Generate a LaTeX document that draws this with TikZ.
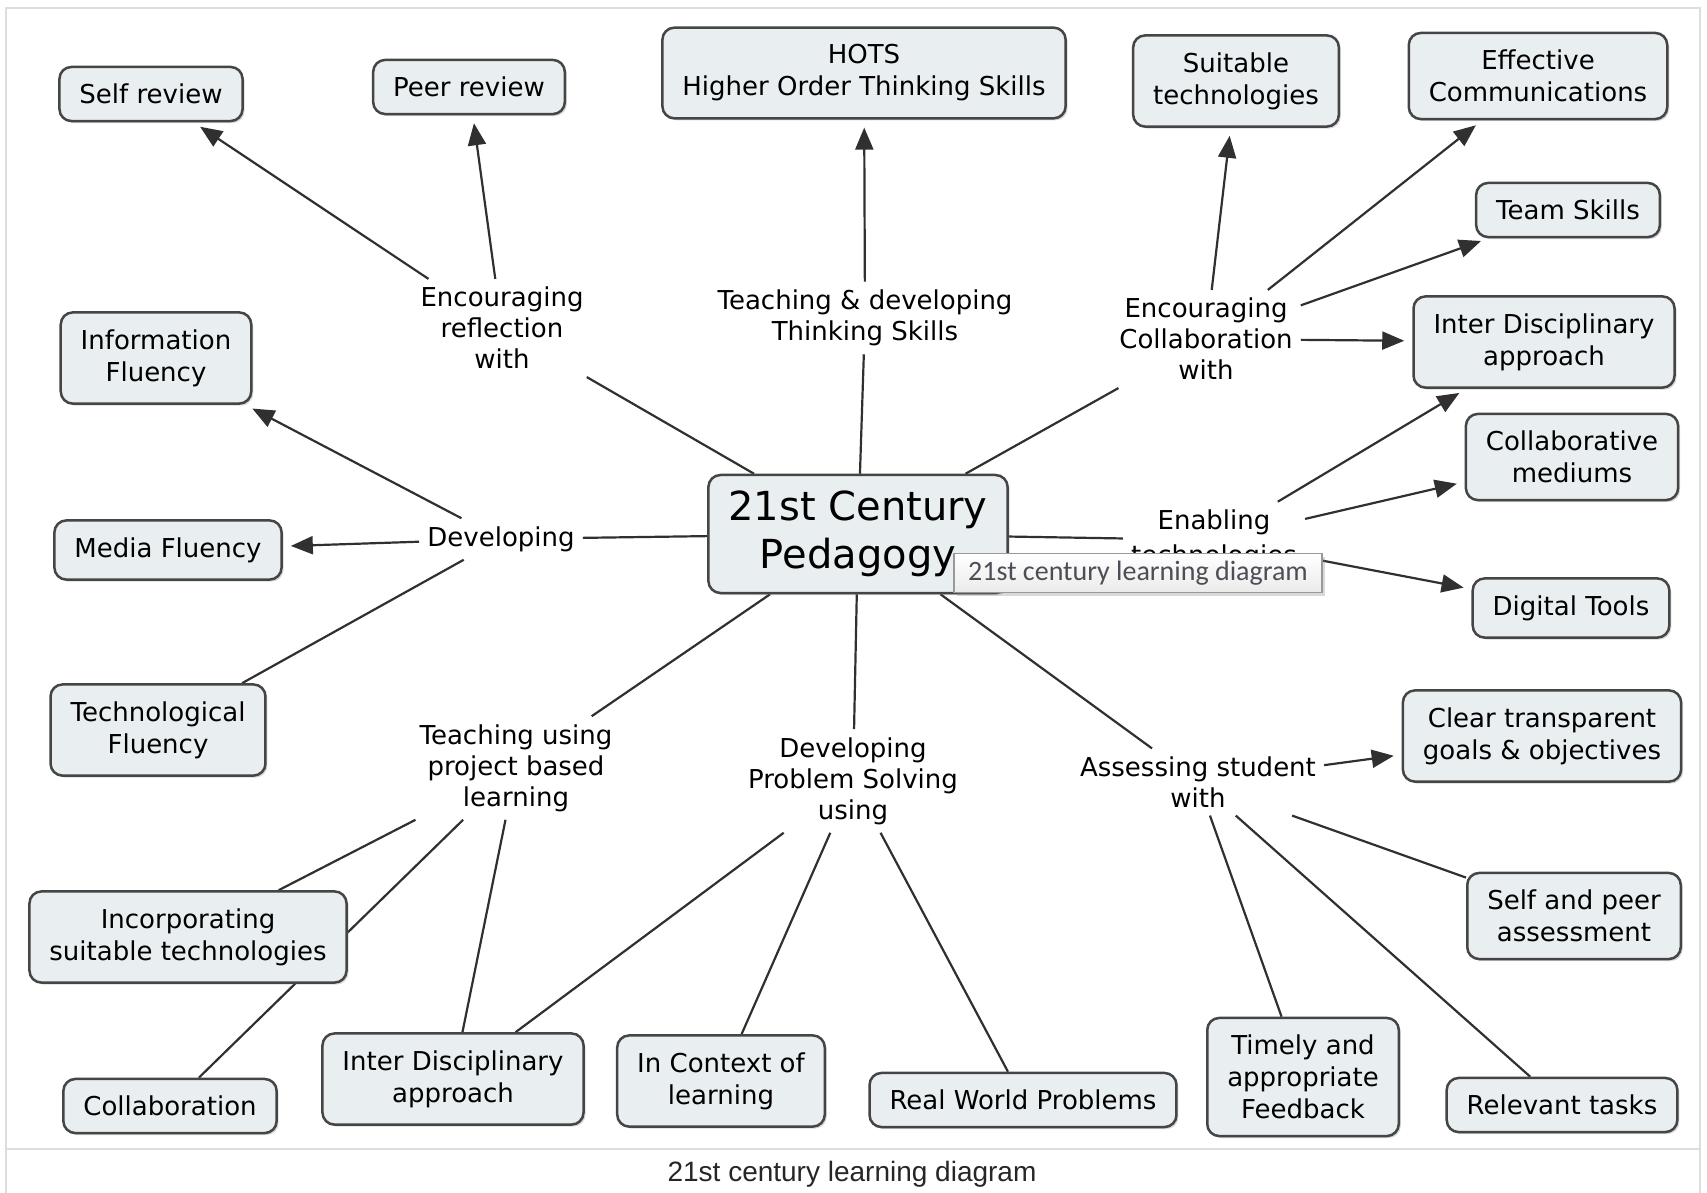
\documentclass[tikz,border=0pt]{standalone}
\usepackage{fontspec}
\setmainfont{DejaVu Sans}
\newfontfamily\capfont{Liberation Sans}
\newfontfamily\tipfont{Carlito}
\usetikzlibrary{arrows.meta,shadows,backgrounds}
\definecolor{boxfill}{HTML}{E9EEF1}
\definecolor{boxline}{HTML}{454545}
\definecolor{edgeline}{HTML}{303030}
\definecolor{framegray}{HTML}{DDDDDD}
\definecolor{tiptext}{HTML}{4D4D55}

\begin{document}
\begin{tikzpicture}[x=1pt, y=-1pt]
    % Node styles
    \tikzstyle{concept} = [draw=boxline, line width=2.5pt, fill=boxfill, rounded corners=12pt,
        align=center, font=\fontsize{26}{32}\selectfont, inner xsep=20pt, inner ysep=17pt,
        minimum height=53pt, drop shadow={shadow xshift=2pt, shadow yshift=-2pt, opacity=0.3}]
    \tikzstyle{hub} = [concept, font=\fontsize{40}{48}\selectfont, inner xsep=20pt, inner ysep=16pt]
    \tikzstyle{phrase} = [align=center, font=\fontsize{26}{31}\selectfont, inner sep=8pt]
    \tikzstyle{ln} = [draw=edgeline, line width=2.2pt]
    \tikzstyle{arr} = [ln, -{Triangle[length=22pt,width=18pt]}, shorten >=8pt]

    \useasboundingbox (0,0) rectangle (1707,1193);

    % Frame and caption
    \draw[framegray, line width=1.5pt] (6,1193) -- (6,8) -- (1700,8) -- (1700,1193);
    \draw[framegray, line width=1.5pt] (6,1149) -- (1700,1149);
    \node[font=\capfont\fontsize{28}{30}\selectfont, text=black!85] (caption) at (852,1174) {21st century learning diagram};

    % Centre
    \node[hub] (ped) at (858,534) {21st Century\\Pedagogy};

    % Linking phrases
    \node[phrase] (encref) at (502,328) {Encouraging\\reflection\\with};
    \node[phrase] (teachdev) at (865,318) {Teaching \& developing\\Thinking Skills};
    \node[phrase] (enccoll) at (1206,339) {Encouraging\\Collaboration\\with};
    \node[phrase] (developing) at (501,539) {Developing};
    \node[phrase, font=\fontsize{26}{35}\selectfont] (enabling) at (1214,540) {Enabling\\technologies};
    \node[phrase] (teachproj) at (516,768) {Teaching using\\project based\\learning};
    \node[phrase] (devprob) at (853,781) {Developing\\Problem Solving\\using};
    \node[phrase] (assess) at (1198,782) {Assessing student\\with};

    % Concepts, top
    \node[concept] (selfrev) at (151,94) {Self review};
    \node[concept] (peerrev) at (469,87) {Peer review};
    \node[concept] (hots) at (864,73) {HOTS\\Higher Order Thinking Skills};
    \node[concept] (suittech) at (1236,81) {Suitable\\technologies};
    \node[concept] (effcomm) at (1538,76) {Effective\\Communications};

    % Concepts, right
    \node[concept] (teamsk) at (1568,210) {Team Skills};
    \node[concept] (interR) at (1544,342) {Inter Disciplinary\\approach};
    \node[concept] (collmed) at (1572,457) {Collaborative\\mediums};
    \node[concept] (digtools) at (1571,608) {Digital Tools};
    \node[concept] (clear) at (1542,736) {Clear transparent\\goals \& objectives};
    \node[concept] (selfpeer) at (1574,916) {Self and peer\\assessment};

    % Concepts, bottom
    \node[concept] (relev) at (1562,1105) {Relevant tasks};
    \node[concept] (timely) at (1303,1077) {Timely and\\appropriate\\Feedback};
    \node[concept] (realw) at (1023,1100) {Real World Problems};
    \node[concept] (incontext) at (721,1081) {In Context of\\learning};
    \node[concept] (interB) at (453,1079) {Inter Disciplinary\\approach};
    \node[concept] (collab) at (170,1106) {Collaboration};

    % Concepts, left
    \node[concept] (incorp) at (188,937) {Incorporating\\suitable technologies};
    \node[concept] (techfl) at (158,730) {Technological\\Fluency};
    \node[concept] (mediafl) at (168,550) {Media Fluency};
    \node[concept] (infofl) at (156,358) {Information\\Fluency};

    % Edges
    \begin{pgfonlayer}{background}
    \draw[ln] (ped) -- (encref);
    \draw[ln] (ped) -- (teachdev);
    \draw[ln] (ped) -- (enccoll);
    \draw[ln] (ped) -- (developing);
    \draw[ln] (ped) -- (enabling);
    \draw[ln] (ped) -- (teachproj);
    \draw[ln] (ped) -- (devprob);
    \draw[ln] (ped) -- (assess);

    \draw[arr] (encref) -- (selfrev);
    \draw[arr] (encref) -- (peerrev);
    \draw[arr] (teachdev) -- (hots);

    \draw[arr] (enccoll) -- (suittech);
    \draw[arr] (enccoll) -- (effcomm);
    \draw[arr] (enccoll) -- (teamsk);
    \draw[arr] (enccoll) -- (interR);

    \draw[arr] (developing) -- (infofl);
    \draw[arr] (developing) -- (mediafl);
    \draw[ln] (developing) -- (techfl);

    \draw[arr] (enabling) -- (interR);
    \draw[arr] (enabling) -- (collmed);
    \draw[arr] (enabling) -- (digtools);

    \draw[ln] (teachproj) -- (incorp);
    \draw[ln] (teachproj) -- (collab);
    \draw[ln] (teachproj) -- (interB);

    \draw[ln] (devprob) -- (interB);
    \draw[ln] (devprob) -- (incontext);
    \draw[ln] (devprob) -- (realw);

    \draw[arr] (assess) -- (clear);
    \draw[ln] (assess) -- (selfpeer);
    \draw[ln] (assess) -- (timely);
    \draw[ln] (assess) -- (relev);
    \end{pgfonlayer}

    % Tooltip
    \node[draw=black!40, line width=1.2pt, top color=white, bottom color=black!8,
        minimum width=368pt, minimum height=39pt, inner sep=0pt,
        font=\tipfont\fontsize{28}{30}\selectfont, text=tiptext,
        drop shadow={shadow xshift=3pt, shadow yshift=-3pt, opacity=0.3}]
        (tip) at (1138,573) {21st century learning diagram};

\end{tikzpicture}
\end{document}
